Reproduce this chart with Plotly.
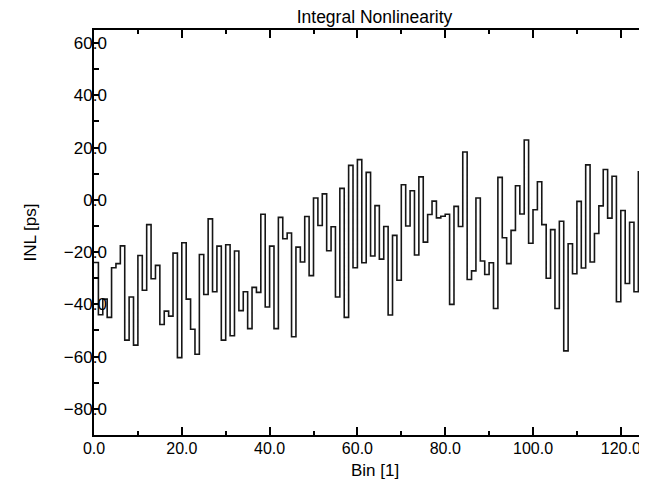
import plotly.graph_objects as go

# Bin index (x) and integral nonlinearity in ps (y)
bins = list(range(127))
inl_ps = [
    -24.0, -44.0, -38.0, -45.0, -26.0, -24.4, -17.6, -53.7, -37.2, -55.6,
    -21.3, -34.6, -9.5, -30.2, -25.1, -47.7, -42.6, -44.5, -20.4, -60.4,
    -16.4, -38.0, -49.5, -59.1, -20.9, -36.2, -7.3, -35.2, -17.7, -53.7,
    -17.2, -52.0, -19.6, -42.4, -35.2, -49.3, -33.5, -35.4, -5.5, -41.0,
    -17.7, -49.3, -6.7, -14.9, -12.7, -52.4, -18.1, -23.8, -6.4, -29.0,
    0.7, -9.8, 2.3, -19.5, -10.3, -37.2, 4.4, -45.0, 13.2, -26.0,
    15.4, -24.1, 10.5, -21.5, -2.2, -22.7, -10.2, -44.1, -13.6, -30.8,
    5.8, -10.0, 3.5, -21.1, 8.8, -16.2, -5.6, -0.5, -6.9, -6.3,
    -5.5, -40.0, -2.5, -10.2, 18.3, -30.5, -27.2, 0.7, -23.4, -28.6,
    -24.1, -41.6, 8.6, -14.5, -24.4, -11.7, 5.4, -5.4, 22.9, -16.6,
    -3.8, 6.9, -9.5, -30.0, -11.4, -41.6, -8.2, -57.8, -16.8, -28.3,
    -0.6, -26.1, 13.4, -23.8, -12.9, -2.3, 11.6, -7.0, 9.0, -39.0,
    -4.1, -32.0, -8.6, -35.2, 10.7, -38.2, 4.1,
]

title_text = "Integral Nonlinearity"
x_title = "Bin [1]"
y_title = "INL [ps]"

# histogram-style step: each bin spans [k, k+1]
x_steps = bins + [bins[-1] + 1]
y_steps = inl_ps + [inl_ps[-1]]

FONT = "Liberation Sans, Arial, Helvetica, sans-serif"
OFF = 8  # page offset of the figure (body margin)

W, H = 647, 482
L, R = 94 - OFF, 0
T = 30 - OFF
B = H - (435 - OFF)
plot_w = W - L - R
plot_h = H - T - B
px_per_bin = 4.39

fig = go.Figure()
fig.add_trace(go.Scatter(
    x=x_steps, y=y_steps, mode="lines",
    line=dict(shape="hv", color="#161616", width=1.6),
    hoverinfo="skip", showlegend=False,
))

fig.update_layout(
    width=W, height=H,
    margin=dict(l=L, r=R, t=T, b=B),
    paper_bgcolor="white", plot_bgcolor="white",
    font=dict(family=FONT, size=17, color="black"),
    title=dict(text=title_text, x=(L + (W - R)) / 2 / W, xanchor="center",
               y=1, yanchor="top", yref="container", pad=dict(t=3, b=0),
               font=dict(size=17.5, color="black")),
    showlegend=False,
)

fig.update_xaxes(
    range=[0, plot_w / px_per_bin], tick0=0, dtick=20, tickformat=".1f",
    ticks="inside", ticklen=8, tickwidth=1.5, tickcolor="black",
    minor=dict(dtick=10, ticks="inside", ticklen=4, tickwidth=1.5, tickcolor="black"),
    showline=True, linecolor="black", linewidth=1.5, mirror="ticks",
    showgrid=False, zeroline=False,
    tickfont=dict(size=16), ticklabelstandoff=-2,
)
fig.update_yaxes(
    range=[-90, 65], tick0=0, dtick=20, tickformat=".1f",
    ticks="inside", ticklen=5, tickwidth=1.5, tickcolor="black",
    minor=dict(dtick=10, ticks="inside", ticklen=5, tickwidth=1.5, tickcolor="black"),
    showline=True, linecolor="black", linewidth=1.5, mirror=False,
    showgrid=False, zeroline=False,
    tickfont=dict(size=17), ticklabelstandoff=-18,
)

fig.add_annotation(text=y_title, textangle=-90, showarrow=False,
                   xref="paper", yref="paper",
                   x=((30 - OFF) - L) / plot_w, y=0.5, xanchor="center", yanchor="middle",
                   font=dict(size=17))
fig.add_annotation(text=x_title, showarrow=False,
                   xref="paper", yref="paper",
                   x=0.5, y=-((470 - OFF) - (H - B)) / plot_h, xanchor="center", yanchor="middle",
                   font=dict(size=17))

fig.write_html("out.html")
